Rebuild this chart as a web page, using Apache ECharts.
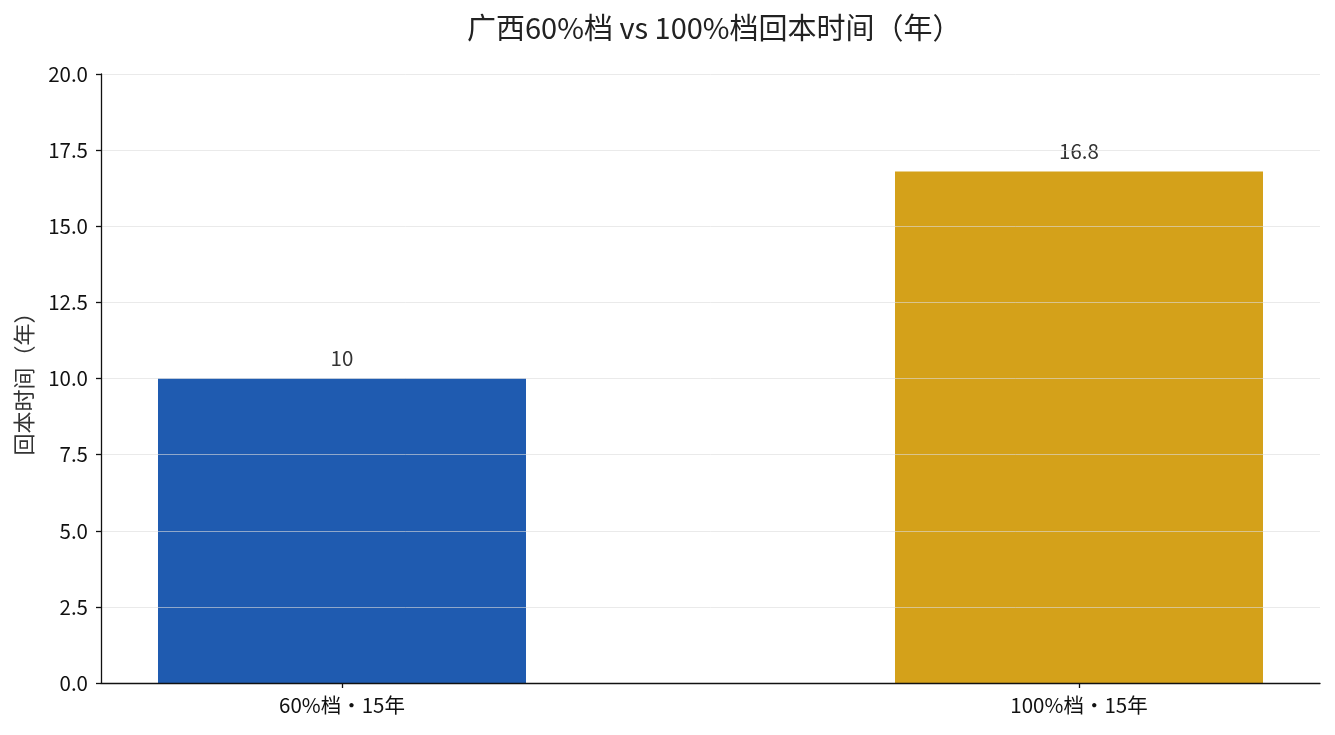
<!DOCTYPE html>
<html><head><meta charset="utf-8">
<script src="https://cdn.jsdelivr.net/npm/echarts@6/dist/echarts.min.js"></script>
<style>html,body{margin:0;padding:0;background:#fff}#c{width:1335px;height:735px}</style>
</head><body><div id="c"></div>
<script>
const categories = ['60%档・15年', '100%档・15年'];
const values = [10, 16.8];
const colors = ['#1f5bb0', '#d4a11a'];
const yTicks = [0, 2.5, 5, 7.5, 10, 12.5, 15, 17.5, 20];
const title = '广西60%档 vs 100%档回本时间（年）';
const yName = '回本时间（年）';

const FONT = '"Noto Sans CJK SC", "Noto Sans", sans-serif';
const chart = echarts.init(document.getElementById('c'), null, {renderer: 'canvas'});
const positions = categories.map((_, i) => i);
chart.setOption({
  animation: false,
  textStyle: {fontFamily: FONT},
  title: {text: title, left: 462, top: 8,
    textStyle: {fontFamily: FONT, fontSize: 29, fontWeight: 'normal', color: '#222'}},
  grid: {left: 101, right: 15, top: 74, bottom: 52, containLabel: false},
  xAxis: {
    type: 'value', min: -0.327, max: 1.327, z: 6,
    splitLine: {show: false},
    axisLine: {show: true, onZero: false, lineStyle: {color: '#111', width: 1.3}},
    axisTick: {show: true, customValues: positions, length: 5, lineStyle: {color: '#111', width: 1.3}},
    axisLabel: {customValues: positions, formatter: v => categories[Math.round(v)] || '',
      color: '#111', fontSize: 20.5, margin: 12, fontFamily: FONT}
  },
  yAxis: {
    type: 'value', min: yTicks[0], max: yTicks[yTicks.length - 1], interval: 2.5,
    z: 5,
    name: yName, nameLocation: 'middle', nameGap: 66, nameRotate: 90,
    nameTextStyle: {fontSize: 22, color: '#333', fontFamily: FONT},
    axisLine: {show: true, onZero: false, lineStyle: {color: '#111', width: 1.3}},
    axisTick: {show: true, length: 5, lineStyle: {color: '#111', width: 1.3}},
    axisLabel: {formatter: v => v.toFixed(1), color: '#111', fontSize: 20.5, margin: 13, fontFamily: FONT},
    splitLine: {show: true, lineStyle: {color: 'rgba(220,220,220,0.6)', width: 1}}
  },
  series: [{
    type: 'bar', z: 2,
    barWidth: 368,
    data: values.map((v, i) => ({value: [i, v], itemStyle: {color: colors[i]}})),
    label: {show: true, position: 'top', distance: 10, color: '#333', fontSize: 20.5,
      fontFamily: FONT, formatter: p => String(p.value[1])}
  }]
});
</script></body></html>
